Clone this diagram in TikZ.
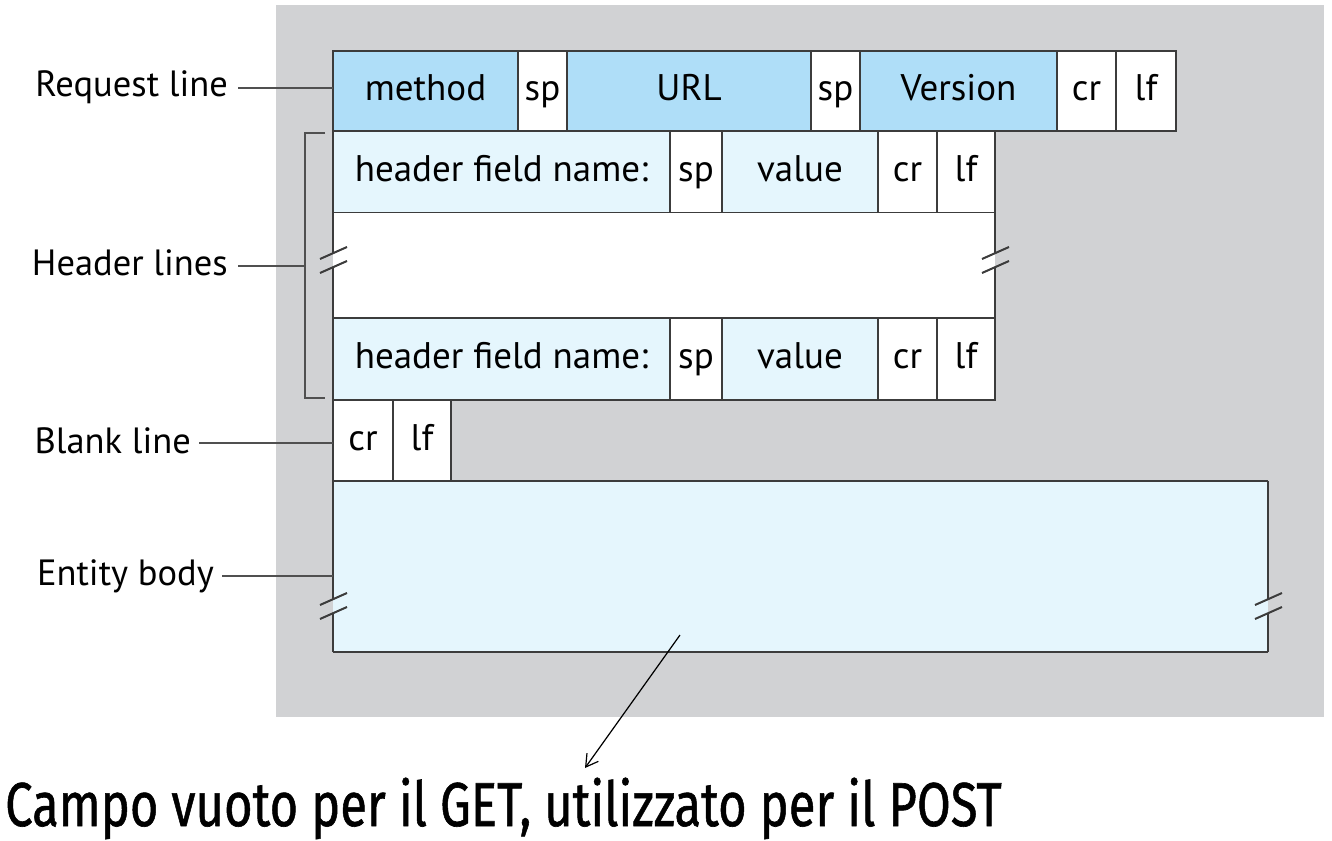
\documentclass[tikz,border=0pt]{standalone}
\usepackage{fontspec}
\setmainfont{PT Sans}
\newfontfamily\notefont[FakeBold=1]{Fira Sans}
\usetikzlibrary{arrows.meta}
\definecolor{bggray}{HTML}{D1D2D4}
\definecolor{darkfill}{HTML}{AFDEF8}
\definecolor{lightfill}{HTML}{E5F6FD}
\definecolor{edgecol}{HTML}{3C3C3C}
\definecolor{leadcol}{HTML}{505050}
\newcommand{\brkmark}[2]{%
  \draw[edge] ({#1-13},{#2-1}) -- ({#1+14},{#2-13});
  \draw[edge] ({#1-13},{#2+13}) -- ({#1+14},{#2+1});}
\begin{document}
\begin{tikzpicture}[x=1pt,y=-1pt,
  edge/.style={draw=edgecol, line width=2pt},
  cell/.style={draw=edgecol, line width=2pt, anchor=north west, inner sep=0pt, outer sep=0pt,
    font=\fontsize{37}{42}\selectfont, text height=28pt, text depth=9pt},
  blockfill/.style={anchor=north west, inner sep=0pt, outer sep=0pt, draw=none},
  lab/.style={anchor=base east, inner sep=0pt, font=\fontsize{36.5}{40}\selectfont},
  lead/.style={draw=leadcol, line width=1.4pt}]
\useasboundingbox (0,0) rectangle (1332,840);
\fill[bggray] (276,5) rectangle (1324,717);

% request line
\node[cell, fill=darkfill, minimum width=185pt, minimum height=80pt] (method) at (333,51) {method};
\node[cell, fill=white, minimum width=49pt, minimum height=80pt] (sp1) at (518,51) {sp};
\node[cell, fill=darkfill, minimum width=244pt, minimum height=80pt] (url) at (567,51) {URL};
\node[cell, fill=white, minimum width=49pt, minimum height=80pt] (sp2) at (811,51) {sp};
\node[cell, fill=darkfill, minimum width=197pt, minimum height=80pt] (ver) at (860,51) {Version};
\node[cell, fill=white, minimum width=59pt, minimum height=80pt] (cr1) at (1057,51) {cr};
\node[cell, fill=white, minimum width=60pt, minimum height=80pt] (lf1) at (1116,51) {lf};

% header line 1
\node[cell, fill=lightfill, minimum width=337pt, minimum height=82pt] (hn1) at (333,131) {header field name:};
\node[cell, fill=white, minimum width=52pt, minimum height=82pt] (hs1) at (670,131) {sp};
\node[cell, fill=lightfill, minimum width=156pt, minimum height=82pt] (hv1) at (722,131) {value};
\node[cell, fill=white, minimum width=59pt, minimum height=82pt] (hc1) at (878,131) {cr};
\node[cell, fill=white, minimum width=58pt, minimum height=82pt] (hl1) at (937,131) {lf};

% omitted header lines
\node[blockfill, fill=white, minimum width=662pt, minimum height=105pt] (gap) at (333,213) {};
\draw[edge] (333,213) -- (333,253);
\draw[edge] (333,267) -- (333,318);
\draw[edge] (995,213) -- (995,253);
\draw[edge] (995,267) -- (995,318);
\brkmark{333}{260}
\brkmark{995}{260}

% header line 2
\node[cell, fill=lightfill, minimum width=337pt, minimum height=82pt] (hn2) at (333,318) {header field name:};
\node[cell, fill=white, minimum width=52pt, minimum height=82pt] (hs2) at (670,318) {sp};
\node[cell, fill=lightfill, minimum width=156pt, minimum height=82pt] (hv2) at (722,318) {value};
\node[cell, fill=white, minimum width=59pt, minimum height=82pt] (hc2) at (878,318) {cr};
\node[cell, fill=white, minimum width=58pt, minimum height=82pt] (hl2) at (937,318) {lf};

% blank line
\node[cell, fill=white, minimum width=60pt, minimum height=81pt] (bcr) at (333,400) {cr};
\node[cell, fill=white, minimum width=58pt, minimum height=81pt] (blf) at (393,400) {lf};

% entity body
\node[blockfill, fill=lightfill, minimum width=935pt, minimum height=171pt] (body) at (333,481) {};
\draw[edge] (333,481) -- (1268,481);
\draw[edge] (333,652) -- (1268,652);
\draw[edge] (333,481) -- (333,599);
\draw[edge] (333,613) -- (333,652);
\draw[edge] (1268,481) -- (1268,599);
\draw[edge] (1268,613) -- (1268,652);
\brkmark{333}{606}
\brkmark{1268}{606}

% labels
\node[lab] (rl) at (228,97) {Request line};
\node[lab] (hl) at (228,275) {Header lines};
\node[lab] (bl) at (191,453) {Blank line};
\node[lab] (eb) at (214,585) {Entity body};

\path ([shift={(10pt,9pt)}]rl.base east) coordinate (rlA);
\draw[lead] (rlA) -- (rlA -| method.west);
\coordinate (brT) at (305,133);
\coordinate (brB) at (305,398);
\draw[lead] (325,133) -- (brT) -- (brB) -- (325,398);
\path ([shift={(10pt,9pt)}]hl.base east) coordinate (hlA);
\draw[lead] (hlA) -- (hlA -| brT);
\path ([shift={(8pt,10pt)}]bl.base east) coordinate (blA);
\draw[lead] (blA) -- (blA -| bcr.west);
\path ([shift={(8pt,9pt)}]eb.base east) coordinate (ebA);
\draw[lead] (ebA) -- (ebA -| body.west);

% note
\node[anchor=base west, inner sep=0pt] (note) at (5,826) {\scalebox{0.79}[1]{\notefont\fontsize{62}{68}\selectfont Campo vuoto per il GET, utilizzato per il POST}};
\coordinate (arrS) at (680,635);
\coordinate (arrE) at (585,768);
\draw[line width=1.2pt, -{Straight Barb[length=12pt,width=14pt]}] (arrS) -- (arrE);
\end{tikzpicture}
\end{document}
